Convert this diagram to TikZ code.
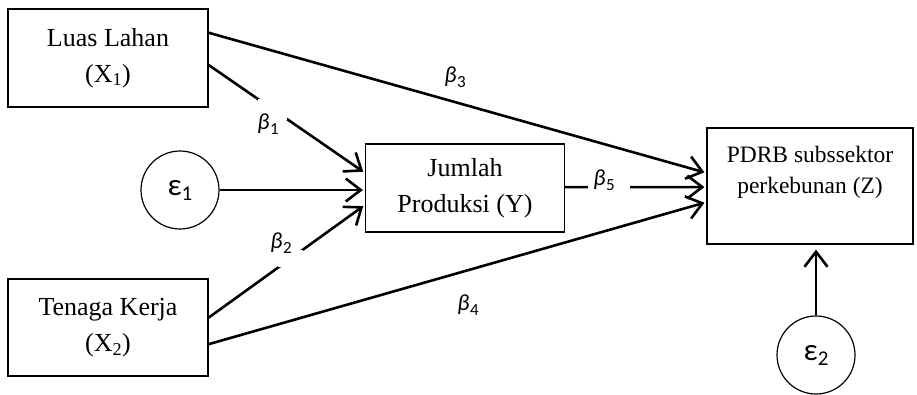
\documentclass[tikz,border=0pt]{standalone}
\usepackage{fontspec}
\setmainfont{Liberation Serif}
\newfontfamily\carl{Carlito}
\usetikzlibrary{arrows.meta,calc}
\newcommand{\coefb}[1]{{\carl\itshape β}\kern0.5pt\raisebox{-5pt}{\carl\fontsize{17}{17}\selectfont #1}}
\newcommand{\epsl}[1]{{\carl\fontsize{31}{31}\selectfont ε}\raisebox{-5pt}{\carl\fontsize{21}{21}\selectfont #1}}
\begin{document}
\begin{tikzpicture}[x=1pt,y=-1pt,
  box/.style={draw, line width=1.2pt, inner sep=0pt, align=center, font=\fontsize{26}{36}\selectfont},
  circ/.style={draw, circle, line width=1.2pt, minimum size=78pt, inner sep=0pt},
  conn/.style={line width=2.6pt, -{Straight Barb[length=15pt,width=23pt]}, shorten >=2pt},
  gapbox/.style={fill=white, inner sep=0pt},
  coef/.style={font=\carl\fontsize{23}{23}\selectfont, inner sep=0pt}]
\useasboundingbox (0,0) rectangle (917,394);

\node[box, minimum width=200pt, minimum height=98pt] (X1) at (108,58) {Luas Lahan\\(X\textsubscript{1})};
\node[box, minimum width=200pt, minimum height=97pt] (X2) at (108,327.5) {Tenaga Kerja\\(X\textsubscript{2})};
\node[box, minimum width=199pt, minimum height=88pt] (Y) at (465,188) {Jumlah\\Produksi (Y)};
\node[box, minimum width=206pt, minimum height=116pt, font=\fontsize{23.5}{31}\selectfont] (Z) at (810,186) {PDRB subssektor\\perkebunan (Z)\\[-7pt]\strut};
\node[circ] (E1) at (180,190) {\epsl{1}};
\node[circ] (E2) at (816,355) {\epsl{2}};

\draw[conn] ($(X1.north east)!0.245!(X1.south east)$) -- ($(Z.north west)!0.388!(Z.south west)$);
\draw[conn] ($(X1.north east)!0.57!(X1.south east)$) -- ($(Y.north west)!0.33!(Y.south west)$);
\draw[conn] (E1.east) -- (Y.west |- E1.east);
\draw[conn] ($(X2.north east)!0.40!(X2.south east)$) -- ($(Y.north west)!0.69!(Y.south west)$);
\draw[conn] ($(X2.north east)!0.67!(X2.south east)$) -- ($(Z.north west)!0.638!(Z.south west)$);
\draw[conn] ($(Y.north east)!0.49!(Y.south east)$) -- ($(Z.north west)!0.509!(Z.south west)$);
\draw[conn, shorten >=5pt] (E2.north) -- (E2.north |- Z.south);

\node[gapbox, minimum width=29pt, minimum height=21pt] (g1) at (272.5,109.5) {};
\node[gapbox, minimum width=25pt, minimum height=17pt] (g2) at (290.5,258.5) {};
\node[gapbox, minimum width=42pt, minimum height=8pt] (g5) at (609,187) {};

\node[coef] (b1) at (268,124) {\coefb{1}};
\node[coef] (b2) at (281,243) {\coefb{2}};
\node[coef] (b3) at (455,77) {\coefb{3}};
\node[coef] (b4) at (468,305) {\coefb{4}};
\node[coef] (b5) at (604,180) {\coefb{5}};
\end{tikzpicture}
\end{document}
